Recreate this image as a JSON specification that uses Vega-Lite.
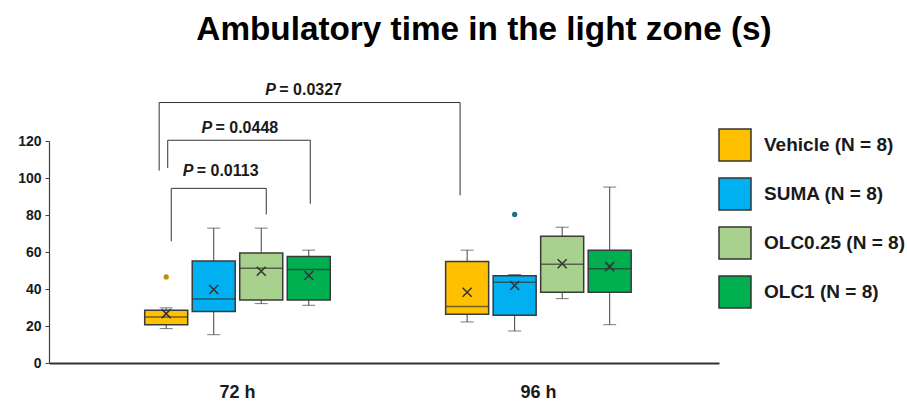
{
  "$schema": "https://vega.github.io/schema/vega-lite/v6.json",
  "width": 670,
  "height": 222,
  "autosize": "none",
  "padding": {"left": 49, "top": 141, "right": 188, "bottom": 38},
  "title": {
    "text": "Ambulatory time in the light zone (s)",
    "fontSize": 33.3,
    "fontWeight": "bold",
    "color": "#000000",
    "anchor": "middle",
    "frame": "group",
    "dx": 100,
    "offset": 35
  },
  "config": {
    "font": "Liberation Sans",
    "view": {"stroke": null},
    "scale": {"offsetBandPaddingInner": 0.095, "offsetBandPaddingOuter": 1},
    "axisY": {
      "title": null,
      "grid": false,
      "labelFontSize": 14,
      "labelFontWeight": "bold",
      "labelColor": "#1a1a1a",
      "labelPadding": 4,
      "labelOverlap": false,
      "tickSize": 4,
      "tickColor": "#404040",
      "domainColor": "#404040",
      "domainWidth": 1.2
    },
    "axisX": {
      "title": null,
      "labelAngle": 0,
      "labelFontSize": 18,
      "labelFontWeight": "bold",
      "labelColor": "#1a1a1a",
      "labelPadding": 20,
      "ticks": false,
      "domainColor": "#333333",
      "domainWidth": 2
    }
  },
  "datasets": {
    "boxes": [
      {"time": "72 h", "group": "Vehicle", "min": 18.6, "q1": 20.7, "median": 24.9, "q3": 28.5, "max": 29.8, "mean": 26.7},
      {"time": "72 h", "group": "SUMA", "min": 15.3, "q1": 27.8, "median": 34.6, "q3": 55.2, "max": 72.9, "mean": 39.7},
      {"time": "72 h", "group": "OLC0.25", "min": 32.1, "q1": 34.1, "median": 51.2, "q3": 59.5, "max": 72.9, "mean": 49.6},
      {"time": "72 h", "group": "OLC1", "min": 31.2, "q1": 34.1, "median": 50.5, "q3": 57.6, "max": 61.0, "mean": 47.3},
      {"time": "96 h", "group": "Vehicle", "min": 22.2, "q1": 26.3, "median": 30.6, "q3": 54.8, "max": 61.0, "mean": 38.2},
      {"time": "96 h", "group": "SUMA", "min": 17.3, "q1": 25.8, "median": 43.7, "q3": 47.1, "max": 47.8, "mean": 41.9},
      {"time": "96 h", "group": "OLC0.25", "min": 34.8, "q1": 38.2, "median": 53.4, "q3": 68.5, "max": 73.4, "mean": 53.6},
      {"time": "96 h", "group": "OLC1", "min": 20.7, "q1": 38.2, "median": 50.9, "q3": 61.0, "max": 95.1, "mean": 52.1}
    ],
    "outliers": [
      {"time": "72 h", "group": "Vehicle", "value": 46.5},
      {"time": "96 h", "group": "SUMA", "value": 80.3}
    ],
    "brackets": [
      {"b": "b1", "time": "72 h", "group": "Vehicle", "y": 65.8, "k": 1},
      {"b": "b1", "time": "72 h", "group": "Vehicle", "y": 94.4, "k": 2},
      {"b": "b1", "time": "72 h", "group": "OLC0.25", "y": 94.4, "k": 3},
      {"b": "b1", "time": "72 h", "group": "OLC0.25", "y": 80.3, "k": 4},
      {"b": "b2", "time": "72 h", "group": "Vehicle", "y": 105.4, "k": 1},
      {"b": "b2", "time": "72 h", "group": "Vehicle", "y": 120.4, "k": 2},
      {"b": "b2", "time": "72 h", "group": "OLC1", "y": 120.4, "k": 3},
      {"b": "b2", "time": "72 h", "group": "OLC1", "y": 86.1, "k": 4},
      {"b": "b3", "time": "72 h", "group": "Vehicle", "y": 104.0, "k": 1},
      {"b": "b3", "time": "72 h", "group": "Vehicle", "y": 140.8, "k": 2},
      {"b": "b3", "time": "96 h", "group": "Vehicle", "y": 140.8, "k": 3},
      {"b": "b3", "time": "96 h", "group": "Vehicle", "y": 90.6, "k": 4}
    ],
    "labels": [
      {"b": "b1", "time": "72 h", "group": "SUMA", "y": 103.7, "label": "= 0.0113"},
      {"b": "b2", "time": "72 h", "group": "SUMA", "y": 127.2, "label": "= 0.0448"},
      {"b": "b3", "time": "72 h", "group": "OLC1", "y": 147.6, "label": "= 0.0327"}
    ]
  },
  "resolve": {"scale": {"xOffset": "independent"}},
  "encoding": {
    "x": {
      "field": "time",
      "type": "nominal",
      "scale": {"domain": ["72 h", "96 h"], "paddingInner": 0.0676, "paddingOuter": 0.147, "align": 0.5446}
    }
  },
  "layer": [
    {
      "data": {"name": "boxes"},
      "mark": {"type": "rule", "color": "#404040", "strokeWidth": 1},
      "encoding": {
        "xOffset": {"field": "group", "type": "nominal", "scale": {"type": "band", "domain": ["Vehicle", "SUMA", "OLC0.25", "OLC1"], "paddingInner": 0.095, "paddingOuter": 1}},
        "y": {
          "field": "min",
          "type": "quantitative",
          "scale": {"domain": [0, 120], "nice": false},
          "axis": {"values": [0, 20, 40, 60, 80, 100, 120], "labelOverlap": false, "tickCount": 7}
        },
        "y2": {"field": "max"}
      }
    },
    {
      "data": {"name": "boxes"},
      "mark": {"type": "tick", "color": "#404040", "thickness": 1, "size": 13},
      "encoding": {
        "xOffset": {"field": "group", "type": "nominal", "scale": {"type": "band", "domain": ["Vehicle", "SUMA", "OLC0.25", "OLC1"], "paddingInner": 0.095, "paddingOuter": 1}},
        "y": {"field": "min", "type": "quantitative"}
      }
    },
    {
      "data": {"name": "boxes"},
      "mark": {"type": "tick", "color": "#404040", "thickness": 1, "size": 13},
      "encoding": {
        "xOffset": {"field": "group", "type": "nominal", "scale": {"type": "band", "domain": ["Vehicle", "SUMA", "OLC0.25", "OLC1"], "paddingInner": 0.095, "paddingOuter": 1}},
        "y": {"field": "max", "type": "quantitative"}
      }
    },
    {
      "data": {"name": "boxes"},
      "mark": {"type": "bar", "stroke": "#3a3a3a", "strokeWidth": 1.5},
      "encoding": {
        "xOffset": {"field": "group", "type": "nominal", "scale": {"type": "band", "domain": ["Vehicle", "SUMA", "OLC0.25", "OLC1"], "paddingInner": 0.095, "paddingOuter": 1}},
        "y": {"field": "q1", "type": "quantitative"},
        "y2": {"field": "q3"},
        "fill": {
          "field": "group",
          "type": "nominal",
          "scale": {"domain": ["Vehicle", "SUMA", "OLC0.25", "OLC1"], "range": ["#FFC000", "#00B0F0", "#A9D18E", "#00B050"]},
          "legend": {
            "title": null,
            "orient": "none",
            "legendX": 669,
            "legendY": -13,
            "padding": 0,
            "symbolType": "square",
            "symbolSize": 1024,
            "symbolStrokeColor": "#333333",
            "symbolStrokeWidth": 1.5,
            "symbolOpacity": 1,
            "labelFontSize": 19,
            "labelFontWeight": "bold",
            "labelColor": "#1a1a1a",
            "labelOffset": 12,
            "rowPadding": 11,
            "labelExpr": "datum.label + ' (N = 8)'"
          }
        }
      }
    },
    {
      "data": {"name": "boxes"},
      "mark": {"type": "tick", "color": "#333333", "thickness": 1.5, "size": 43},
      "encoding": {
        "xOffset": {"field": "group", "type": "nominal", "scale": {"type": "band", "domain": ["Vehicle", "SUMA", "OLC0.25", "OLC1"], "paddingInner": 0.095, "paddingOuter": 1}},
        "y": {"field": "median", "type": "quantitative"}
      }
    },
    {
      "data": {"name": "boxes"},
      "mark": {"type": "point", "shape": "M -1 -1 L 1 1 M -1 1 L 1 -1", "size": 81, "filled": false, "stroke": "#333333", "strokeWidth": 1.5, "opacity": 1},
      "encoding": {
        "xOffset": {"field": "group", "type": "nominal", "scale": {"type": "band", "domain": ["Vehicle", "SUMA", "OLC0.25", "OLC1"], "paddingInner": 0.095, "paddingOuter": 1}},
        "y": {"field": "mean", "type": "quantitative"}
      }
    },
    {
      "data": {"name": "outliers"},
      "mark": {"type": "point", "shape": "circle", "filled": true, "size": 28, "opacity": 1},
      "encoding": {
        "xOffset": {"field": "group", "type": "nominal", "scale": {"type": "band", "domain": ["Vehicle", "SUMA", "OLC0.25", "OLC1"], "paddingInner": 0.095, "paddingOuter": 1}},
        "y": {"field": "value", "type": "quantitative"},
        "color": {
          "field": "group",
          "type": "nominal",
          "scale": {"domain": ["Vehicle", "SUMA"], "range": ["#B8900C", "#1F6E90"]},
          "legend": null
        }
      }
    },
    {
      "data": {"name": "brackets"},
      "transform": [{"filter": "datum.b === 'b1'"}],
      "mark": {"type": "line", "color": "#333333", "strokeWidth": 1},
      "encoding": {
        "xOffset": {"field": "group", "type": "nominal", "scale": {"type": "band", "domain": ["Vehicle", "SUMA", "OLC0.25", "OLC1"], "paddingInner": 0.095, "paddingOuter": 1, "align": 0.553}},
        "y": {"field": "y", "type": "quantitative"},
        "order": {"field": "k", "type": "quantitative"}
      }
    },
    {
      "data": {"name": "brackets"},
      "transform": [{"filter": "datum.b === 'b2'"}],
      "mark": {"type": "line", "color": "#333333", "strokeWidth": 1},
      "encoding": {
        "xOffset": {"field": "group", "type": "nominal", "scale": {"type": "band", "domain": ["Vehicle", "SUMA", "OLC0.25", "OLC1"], "paddingInner": 0.095, "paddingOuter": 1, "align": 0.516}},
        "y": {"field": "y", "type": "quantitative"},
        "order": {"field": "k", "type": "quantitative"}
      }
    },
    {
      "data": {"name": "brackets"},
      "transform": [{"filter": "datum.b === 'b3'"}],
      "mark": {"type": "line", "color": "#333333", "strokeWidth": 1},
      "encoding": {
        "xOffset": {"field": "group", "type": "nominal", "scale": {"type": "band", "domain": ["Vehicle", "SUMA", "OLC0.25", "OLC1"], "paddingInner": 0.095, "paddingOuter": 1, "align": 0.426}},
        "y": {"field": "y", "type": "quantitative"},
        "order": {"field": "k", "type": "quantitative"}
      }
    },
    {
      "data": {"name": "labels"},
      "transform": [{"filter": "datum.b === 'b1'"}],
      "mark": {"type": "text", "text": "P", "fontStyle": "italic", "fontWeight": "bold", "fontSize": 16, "align": "left", "baseline": "middle", "dx": -31, "color": "#1a1a1a"},
      "encoding": {
        "xOffset": {"field": "group", "type": "nominal", "scale": {"type": "band", "domain": ["Vehicle", "SUMA", "OLC0.25", "OLC1"], "paddingInner": 0.095, "paddingOuter": 1}},
        "y": {"field": "y", "type": "quantitative"}
      }
    },
    {
      "data": {"name": "labels"},
      "transform": [{"filter": "datum.b === 'b1'"}],
      "mark": {"type": "text", "fontWeight": "bold", "fontSize": 16, "align": "left", "baseline": "middle", "dx": -17, "color": "#1a1a1a"},
      "encoding": {
        "xOffset": {"field": "group", "type": "nominal", "scale": {"type": "band", "domain": ["Vehicle", "SUMA", "OLC0.25", "OLC1"], "paddingInner": 0.095, "paddingOuter": 1}},
        "y": {"field": "y", "type": "quantitative"},
        "text": {"field": "label"}
      }
    },
    {
      "data": {"name": "labels"},
      "transform": [{"filter": "datum.b === 'b2'"}],
      "mark": {"type": "text", "text": "P", "fontStyle": "italic", "fontWeight": "bold", "fontSize": 16, "align": "left", "baseline": "middle", "dx": -36, "color": "#1a1a1a"},
      "encoding": {
        "y": {"field": "y", "type": "quantitative"}
      }
    },
    {
      "data": {"name": "labels"},
      "transform": [{"filter": "datum.b === 'b2'"}],
      "mark": {"type": "text", "fontWeight": "bold", "fontSize": 16, "align": "left", "baseline": "middle", "dx": -22, "color": "#1a1a1a"},
      "encoding": {
        "y": {"field": "y", "type": "quantitative"},
        "text": {"field": "label"}
      }
    },
    {
      "data": {"name": "labels"},
      "transform": [{"filter": "datum.b === 'b3'"}],
      "mark": {"type": "text", "text": "P", "fontStyle": "italic", "fontWeight": "bold", "fontSize": 16, "align": "left", "baseline": "middle", "dx": -43.5, "color": "#1a1a1a"},
      "encoding": {
        "xOffset": {"field": "group", "type": "nominal", "scale": {"type": "band", "domain": ["Vehicle", "SUMA", "OLC0.25", "OLC1"], "paddingInner": 0.095, "paddingOuter": 1}},
        "y": {"field": "y", "type": "quantitative"}
      }
    },
    {
      "data": {"name": "labels"},
      "transform": [{"filter": "datum.b === 'b3'"}],
      "mark": {"type": "text", "fontWeight": "bold", "fontSize": 16, "align": "left", "baseline": "middle", "dx": -29.5, "color": "#1a1a1a"},
      "encoding": {
        "xOffset": {"field": "group", "type": "nominal", "scale": {"type": "band", "domain": ["Vehicle", "SUMA", "OLC0.25", "OLC1"], "paddingInner": 0.095, "paddingOuter": 1}},
        "y": {"field": "y", "type": "quantitative"},
        "text": {"field": "label"}
      }
    }
  ]
}
